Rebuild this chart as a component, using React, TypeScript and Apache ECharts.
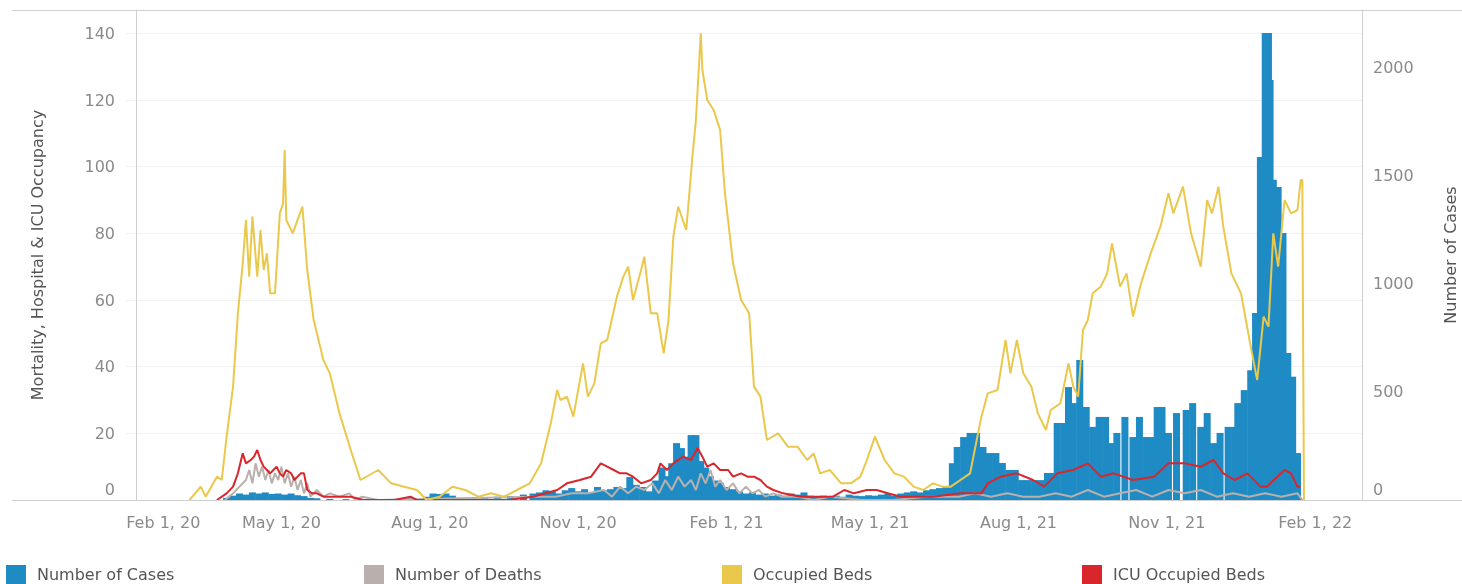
import React, { useEffect, useRef } from "react";
import * as echarts from "echarts";

const BASE_DATE = "2020-02-01";
const tickDates = ["2020-02-01", "2020-05-01", "2020-08-01", "2020-11-01", "2021-02-01", "2021-05-01", "2021-08-01", "2021-11-01", "2022-02-01"];
const tickLabels = ["Feb 1, 20", "May 1, 20", "Aug 1, 20", "Nov 1, 20", "Feb 1, 21", "May 1, 21", "Aug 1, 21", "Nov 1, 21", "Feb 1, 22"];

const seriesNames = ["Number of Cases", "Number of Deaths", "Occupied Beds", "ICU Occupied Beds"];
const seriesColors = ["#1f8bc4", "#b9b0ad", "#eac84c", "#d8262c"];

// [days since Feb 1, 2020, value]
const casesByDay: [number, number][] = [
  [56, 10], [60, 20], [64, 30], [68, 25], [72, 35], [76, 30], [80, 35], [84, 28], [88, 30], [92, 25], [96, 30], [100, 22], [104, 18], [108, 10], [112, 8],
  [120, 5], [130, 4], [140, 3], [150, 4], [160, 5], [170, 8], [180, 15], [184, 30], [188, 28], [192, 30], [196, 20], [200, 10], [208, 8], [216, 12], [224, 15],
  [232, 18], [240, 25], [246, 30], [250, 35], [254, 45], [258, 40], [262, 30], [266, 45], [270, 55], [274, 40], [278, 50], [282, 35], [286, 60], [290, 45],
  [294, 50], [298, 60], [302, 55], [306, 106], [310, 70], [314, 60], [318, 40], [322, 90], [326, 150], [329, 110], [332, 170], [335, 263], [338, 240],
  [341, 200], [344, 300], [347, 300], [350, 180], [353, 150], [356, 110], [359, 90], [362, 80], [366, 60], [370, 50], [374, 40], [378, 30], [382, 35],
  [386, 25], [390, 30], [394, 20], [398, 25], [402, 20], [406, 30], [410, 25], [414, 35], [418, 20], [422, 15], [426, 20], [430, 15], [434, 20], [438, 15],
  [442, 25], [446, 20], [450, 18], [454, 22], [458, 20], [462, 25], [466, 30], [470, 20], [474, 30], [478, 35], [482, 40], [486, 35], [490, 45], [494, 50],
  [498, 55], [502, 60], [506, 170], [509, 245], [513, 291], [517, 310], [521, 310], [525, 245], [529, 217], [533, 217], [537, 171], [541, 139], [545, 139],
  [549, 92], [553, 92], [557, 92], [561, 92], [565, 125], [569, 125], [571, 356], [575, 356], [578, 522], [581, 448], [585, 647], [589, 430], [593, 338],
  [597, 384], [601, 384], [604, 263], [608, 310], [613, 384], [618, 291], [622, 384], [626, 291], [629, 291], [633, 430], [636, 430], [640, 310], [645, 402],
  [651, 416], [655, 448], [660, 338], [664, 402], [668, 263], [672, 310], [677, 338], [681, 338], [683, 448], [687, 508], [691, 600], [694, 864], [697, 1586],
  [700, 2159], [702, 2159], [703, 1942], [705, 1480], [708, 1447], [711, 1234], [714, 680], [717, 570], [720, 217],
];

const deathsByDay: [number, number][] = [
  [55, 0], [60, 2], [64, 4], [68, 6], [70, 9], [72, 5], [74, 11], [76, 7], [78, 10], [80, 6], [82, 9], [84, 5], [86, 8], [88, 6], [90, 10], [92, 5], [94, 8],
  [96, 4], [98, 7], [100, 3], [102, 6], [104, 2], [106, 5], [108, 1], [112, 3], [116, 1], [120, 2], [126, 1], [132, 2], [136, 0], [140, 1], [150, 0],
  [250, 1], [260, 1], [270, 2], [280, 2], [290, 3], [295, 1], [300, 4], [305, 2], [310, 4], [315, 3], [320, 5], [324, 2], [328, 6], [332, 3], [336, 7],
  [340, 4], [344, 6], [347, 3], [350, 8], [353, 5], [356, 9], [359, 4], [362, 6], [366, 3], [370, 5], [374, 2], [378, 4], [382, 2], [386, 3], [390, 1],
  [395, 2], [400, 1], [410, 1], [420, 0], [430, 1], [450, 0], [470, 0], [490, 1], [510, 1], [520, 2], [530, 1], [540, 2], [550, 1], [560, 1], [570, 2],
  [580, 1], [590, 3], [600, 1], [610, 2], [620, 3], [630, 1], [640, 3], [650, 2], [660, 3], [670, 1], [680, 2], [690, 1], [700, 2], [710, 1], [720, 2], [723, 0],
];

const bedsByDay: [number, number][] = [
  [33, 0], [40, 4], [43, 1], [50, 7], [53, 6], [56, 19], [60, 34], [63, 56], [66, 71], [68, 84], [70, 67], [72, 85], [75, 67], [77, 81], [79, 69], [81, 74],
  [83, 62], [86, 62], [89, 86], [91, 89], [92, 105], [93, 84], [97, 80], [103, 88], [106, 69], [110, 54], [116, 42], [120, 38], [126, 26], [133, 15],
  [139, 6], [150, 9], [158, 5], [166, 4], [174, 3], [180, 0], [188, 1], [196, 4], [204, 3], [212, 1], [220, 2], [228, 1], [236, 3], [244, 5], [251, 11],
  [257, 23], [261, 33], [263, 30], [267, 31], [271, 25], [277, 41], [280, 31], [284, 35], [288, 47], [292, 48], [298, 61], [302, 67], [305, 70], [308, 60],
  [313, 69], [315, 73], [319, 56], [323, 56], [327, 44], [330, 54], [333, 79], [336, 88], [341, 81], [345, 104], [347, 114], [350, 140], [351, 129],
  [354, 120], [358, 117], [362, 111], [365, 92], [370, 71], [375, 60], [380, 56], [383, 34], [387, 31], [391, 18], [398, 20], [404, 16], [410, 16],
  [416, 12], [420, 14], [424, 8], [430, 9], [437, 5], [443, 5], [449, 7], [453, 12], [458, 19], [464, 12], [470, 8], [476, 7], [482, 4], [488, 3],
  [494, 5], [500, 4], [505, 4], [511, 6], [517, 8], [524, 25], [528, 32], [534, 33], [539, 48], [542, 38], [546, 48], [550, 38], [555, 34], [559, 26],
  [564, 21], [567, 27], [573, 29], [578, 41], [581, 34], [584, 31], [587, 51], [590, 54], [593, 62], [598, 64], [602, 68], [605, 77], [610, 64], [614, 68],
  [618, 55], [623, 65], [629, 74], [635, 82], [640, 92], [643, 86], [649, 94], [654, 80], [660, 70], [664, 90], [667, 86], [671, 94], [674, 82], [679, 68],
  [685, 62], [691, 46], [695, 36], [699, 55], [702, 52], [705, 80], [708, 70], [712, 90], [716, 86], [720, 87], [722, 96], [723, 96], [724, 0],
];

const icuByDay: [number, number][] = [
  [50, 0], [56, 2], [60, 4], [63, 8], [66, 14], [68, 11], [71, 12], [73, 13], [75, 15], [77, 12], [79, 10], [81, 9], [83, 8], [85, 9], [87, 10], [89, 8],
  [91, 7], [93, 9], [96, 8], [98, 6], [100, 7], [102, 8], [104, 8], [106, 3], [109, 2], [112, 2], [116, 1], [120, 1], [126, 1], [133, 1], [141, 0],
  [160, 0], [170, 1], [174, 0], [200, 0], [230, 0], [246, 1], [261, 3], [267, 5], [275, 6], [282, 7], [288, 11], [292, 10], [296, 9], [300, 8], [304, 8],
  [308, 7], [313, 5], [319, 6], [323, 8], [325, 11], [329, 9], [333, 11], [339, 13], [344, 12], [348, 15.6], [351, 13], [354, 10], [358, 11], [362, 9],
  [367, 9], [370, 7], [375, 8], [379, 7], [383, 7], [387, 6], [391, 4], [395, 3], [401, 2], [412, 1], [422, 1], [432, 1], [439, 3], [445, 2], [453, 3],
  [459, 3], [466, 2], [474, 1], [484, 1], [494, 1], [511, 2], [524, 2], [528, 5], [536, 7], [546, 8], [556, 6], [563, 4], [571, 8], [581, 9], [590, 11],
  [598, 7], [606, 8], [618, 6], [631, 7], [640, 11], [650, 11], [660, 10], [668, 12], [674, 8], [681, 6], [689, 8], [697, 4], [701, 4], [712, 9], [716, 8],
  [720, 4], [722, 4],
];

const DAY = 86400000;
const FONT = "DejaVu Sans";

export default function App() {
  const ref = useRef<HTMLDivElement>(null);
  useEffect(() => {
    if (!ref.current) return;
    const chart = echarts.init(ref.current, undefined, { renderer: "svg" });
    const base = Date.parse(BASE_DATE + "T00:00:00Z");
    // x axis: days since BASE_DATE
    const tickDays = tickDates.map((s) => Math.round((Date.parse(s + "T00:00:00Z") - base) / DAY));

    const lineSeries = (idx: number, pairs: [number, number][], z: number) => ({
      name: seriesNames[idx],
      type: "line",
      yAxisIndex: 0,
      data: pairs,
      showSymbol: false,
      symbol: "none",
      z,
      lineStyle: { color: seriesColors[idx], width: 2 },
      itemStyle: { color: seriesColors[idx] },
    });

    const legendLefts = [6, 364, 722, 1082];
    const legends = seriesNames.map((n, i) => ({
      data: [n],
      left: legendLefts[i],
      top: 565,
      icon: "rect",
      itemWidth: 20,
      itemHeight: 19,
      itemGap: 0,
      padding: 0,
      selectedMode: false,
      textStyle: { fontFamily: FONT, fontSize: 16, color: "#555", padding: [0, 0, 0, 6] },
    }));

    chart.setOption({
      animation: false,
      grid: { left: 125, right: 100, top: 10, bottom: 84, containLabel: false, outerBoundsMode: "none" },
      legend: legends,
      xAxis: {
        type: "value",
        min: -7,
        max: 760,
        axisLine: { show: false },
        axisTick: { show: false },
        splitLine: { show: false },
        axisLabel: {
          customValues: tickDays,
          showMinLabel: true,
          showMaxLabel: true,
          margin: 14,
          fontFamily: FONT,
          fontSize: 16,
          color: "#8a8a8a",
          formatter: (v: number) => {
            const i = tickDays.indexOf(Math.round(v));
            if (i < 0) return "";
            return i === 0 ? "{f|" + tickLabels[i] + "}" : tickLabels[i];
          },
          rich: { f: { fontFamily: FONT, fontSize: 16, color: "#8a8a8a", padding: [0, 0, 0, 54] } },
        },
      },
      yAxis: [
        {
          type: "value",
          min: 0,
          max: 147,
          interval: 20,
          position: "left",
          name: "Mortality, Hospital & ICU Occupancy",
          nameLocation: "middle",
          nameRotate: 90,
          nameGap: 80,
          nameTextStyle: { fontFamily: FONT, fontSize: 16, color: "#555" },
          axisLine: { show: true, lineStyle: { color: "#cfcfcf" } },
          axisTick: { show: false },
          splitLine: { show: true, lineStyle: { color: "#f1f1f1" } },
          axisLabel: {
            showMaxLabel: false,
            margin: 10,
            fontFamily: FONT,
            fontSize: 16,
            color: "#8a8a8a",
            formatter: (v: number) => (v % 20 !== 0 ? "" : v === 0 ? "{z|0}" : String(v)),
            rich: { z: { fontFamily: FONT, fontSize: 16, color: "#8a8a8a", padding: [0, 0, 22, 0] } },
          },
        },
        {
          type: "value",
          min: 0,
          max: 2265,
          interval: 500,
          position: "right",
          name: "Number of Cases",
          nameLocation: "middle",
          nameRotate: 90,
          nameGap: 80,
          nameTextStyle: { fontFamily: FONT, fontSize: 16, color: "#555" },
          axisLine: { show: true, lineStyle: { color: "#cfcfcf" } },
          axisTick: { show: false },
          splitLine: { show: false },
          axisLabel: {
            showMaxLabel: false,
            margin: 11,
            fontFamily: FONT,
            fontSize: 16,
            color: "#8a8a8a",
            formatter: (v: number) => (v % 500 !== 0 ? "" : v === 0 ? "{z|0}" : String(v)),
            rich: { z: { fontFamily: FONT, fontSize: 16, color: "#8a8a8a", padding: [0, 0, 22, 0] } },
          },
        },
      ],
      graphic: [
        { type: "line", z: 100, shape: { x1: 12, y1: 10.5, x2: 1462, y2: 10.5 }, style: { stroke: "#cfcfcf", lineWidth: 1 } },
        { type: "line", z: 100, shape: { x1: 12, y1: 500.5, x2: 1462, y2: 500.5 }, style: { stroke: "#cfcfcf", lineWidth: 1 } },
      ],
      series: [
        {
          name: seriesNames[0],
          type: "bar",
          yAxisIndex: 1,
          data: casesByDay,
          barWidth: 7,
          z: 1,
          itemStyle: { color: seriesColors[0] },
        },
        lineSeries(1, deathsByDay, 2),
        lineSeries(3, icuByDay, 3),
        lineSeries(2, bedsByDay, 4),
      ],
    });
    return () => chart.dispose();
  }, []);
  return <div ref={ref} style={{ position: "fixed", left: 0, top: 0, width: 1462, height: 584 }} />;
}
